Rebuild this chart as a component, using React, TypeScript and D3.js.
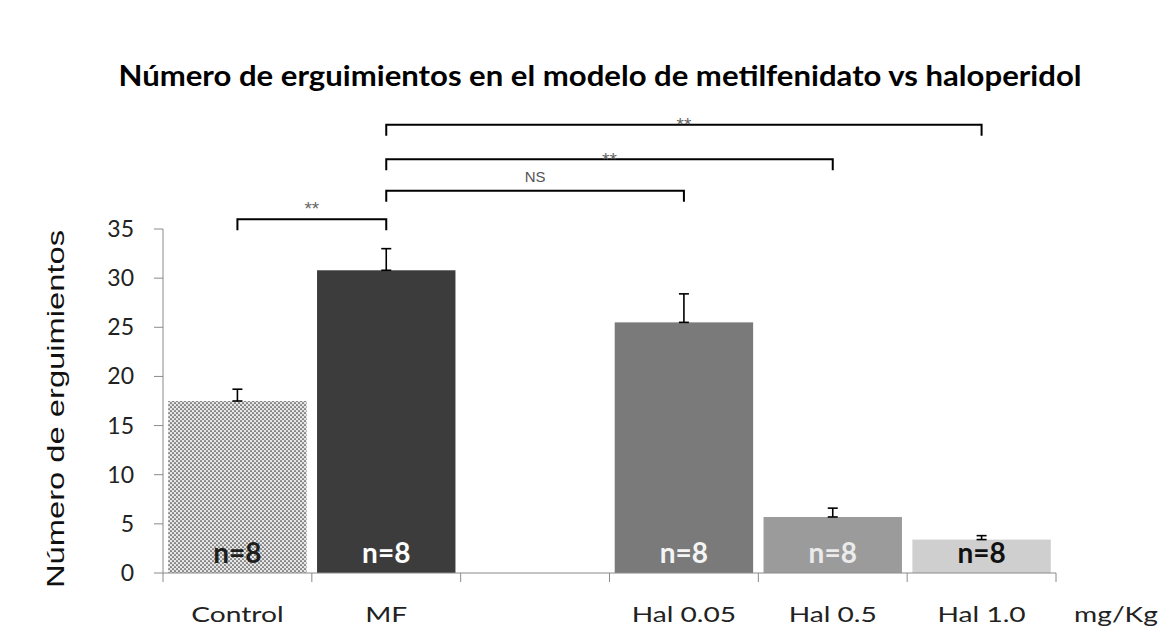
import React from "react";
import * as d3 from "d3";

const categories = ["Control", "MF", "", "Hal 0.05", "Hal 0.5", "Hal 1.0"];
const means: (number | null)[] = [17.5, 30.8, null, 25.5, 5.7, 3.4];
const errors: (number | null)[] = [1.2, 2.2, null, 2.9, 0.9, 0.4];
const nLabels = ["n=8", "n=8", "", "n=8", "n=8", "n=8"];
const yTicks = [0, 5, 10, 15, 20, 25, 30, 35];
const brackets = [
  { from: "Control", to: "MF", level: 36.0, label: "**" },
  { from: "MF", to: "Hal 0.05", level: 38.9, label: "NS" },
  { from: "MF", to: "Hal 0.5", level: 42.1, label: "**" },
  { from: "MF", to: "Hal 1.0", level: 45.6, label: "**" },
];
const title = "Número de erguimientos en el modelo de metilfenidato vs haloperidol";
const yTitle = "Número de erguimientos";
const unitLabel = "mg/Kg";

const W = 1167;
const H = 636;
const fills = ["url(#dots)", "#3c3c3c", "none", "#7a7a7a", "#9b9b9b", "#cfcfcf"];
const labelColors = ["#1e1e1e", "#ffffff", "none", "#f4f4f4", "#ebebeb", "#111111"];
const bracketLift = [14, 9, 3, 4];
const calibri = "Lato, 'Open Sans', sans-serif";
const arial = "'Liberation Sans', Arial, sans-serif";

export default function App() {
  const x = d3
    .scaleBand<string>()
    .domain(categories.map((c, i) => c || `_${i}`))
    .range([163, 1056])
    .paddingInner(0.07)
    .paddingOuter(0.035);
  const key = (i: number) => categories[i] || `_${i}`;
  const y = d3.scaleLinear().domain([0, 35]).range([573, 229]);
  const step = x.step();
  const left = 163;
  const bw = x.bandwidth();
  const center = (c: string) => (x(c) as number) + bw / 2;

  return (
    <svg width={W} height={H} style={{ position: "absolute", left: 0, top: 0, background: "#fff" }}>
      <defs>
        <pattern id="dots" width="4" height="4" patternUnits="userSpaceOnUse">
          <rect width="4" height="4" fill="#e6e6e6" />
          <circle cx="1" cy="1" r="0.85" fill="#3a3a3a" />
          <circle cx="3" cy="3" r="0.85" fill="#3a3a3a" />
        </pattern>
      </defs>
      <rect width={W} height={H} fill="#fff" />
      <text x={600} y={86} textAnchor="middle" fontFamily={calibri} fontWeight={700} fontSize={29} textLength={963} lengthAdjust="spacingAndGlyphs" fill="#000">
        {title}
      </text>

      {/* bars */}
      {categories.map((c, i) => {
        const v = means[i];
        if (v == null) return null;
        const bx = x(key(i)) as number;
        return <rect key={"b" + i} x={bx} y={y(v)} width={bw} height={y(0) - y(v)} fill={fills[i]} />;
      })}

      {/* error bars */}
      {categories.map((c, i) => {
        const v = means[i];
        const e = errors[i];
        if (v == null || e == null) return null;
        const cx = (x(key(i)) as number) + bw / 2;
        return (
          <g key={"e" + i} stroke="#000" strokeWidth={1.6}>
            <line x1={cx} x2={cx} y1={y(v)} y2={y(v + e)} />
            <line x1={cx - 5} x2={cx + 5} y1={y(v + e)} y2={y(v + e)} />
            <line x1={cx - 5} x2={cx + 5} y1={y(v)} y2={y(v)} />
          </g>
        );
      })}

      {/* n labels */}
      {categories.map((c, i) => {
        if (!nLabels[i]) return null;
        const cx = (x(key(i)) as number) + bw / 2;
        return (
          <text key={"n" + i} x={cx} y={y(0) - 10} textAnchor="middle" fontFamily={calibri} fontWeight={700} fontSize={28} fill={labelColors[i]}>
            {nLabels[i]}
          </text>
        );
      })}

      {/* axes */}
      <line x1={left} x2={left} y1={y(35)} y2={y(0)} stroke="#8a8a8a" strokeWidth={1} />
      <line x1={left} x2={1056} y1={y(0)} y2={y(0)} stroke="#8a8a8a" strokeWidth={1} />
      {yTicks.map((t) => (
        <g key={"yt" + t}>
          <line x1={left - 9} x2={left} y1={y(t)} y2={y(t)} stroke="#8a8a8a" />
          <text x={134} y={y(t) + 8} textAnchor="end" fontFamily={calibri} fontSize={23} fill="#222">
            {t}
          </text>
        </g>
      ))}
      {d3.range(categories.length + 1).map((k) => (
        <line key={"xt" + k} x1={left + k * step} x2={left + k * step} y1={y(0)} y2={y(0) + 9} stroke="#8a8a8a" />
      ))}
      {categories.map((c, i) => {
        if (!c) return null;
        const cx = (x(key(i)) as number) + bw / 2;
        return (
          <text key={"xl" + i} x={cx} y={622} textAnchor="middle" fontFamily={calibri} fontSize={22} fill="#222" transform={`translate(${cx},0) scale(1.28,1) translate(${-cx},0)`}>
            {c}
          </text>
        );
      })}
      <text x={1116} y={622} textAnchor="middle" fontFamily={calibri} fontSize={22} fill="#222" transform="translate(1116,0) scale(1.28,1) translate(-1116,0)">
        {unitLabel}
      </text>
      <text transform={`translate(64,${409}) rotate(-90)`} textAnchor="middle" fontFamily={arial} fontSize={24} fill="#111" textLength={358} lengthAdjust="spacingAndGlyphs">
        {yTitle}
      </text>

      {/* significance brackets */}
      {brackets.map((b, i) => {
        const x1 = center(b.from);
        const x2 = center(b.to);
        const yy = y(b.level);
        const leg = 11;
        return (
          <g key={"br" + i}>
            <path d={`M${x1},${yy + leg}V${yy}H${x2}V${yy + leg}`} fill="none" stroke="#000" strokeWidth={2} />
            {b.label === "NS" ? (
              <text x={(x1 + x2) / 2} y={yy - bracketLift[i]} textAnchor="middle" fontFamily={arial} fontSize={15} fill="#555">
                {b.label}
              </text>
            ) : (
              <text x={(x1 + x2) / 2} y={yy - bracketLift[i] + 10} textAnchor="middle" fontFamily={arial} fontSize={19} fill="#666">
                {b.label}
              </text>
            )}
          </g>
        );
      })}
    </svg>
  );
}
